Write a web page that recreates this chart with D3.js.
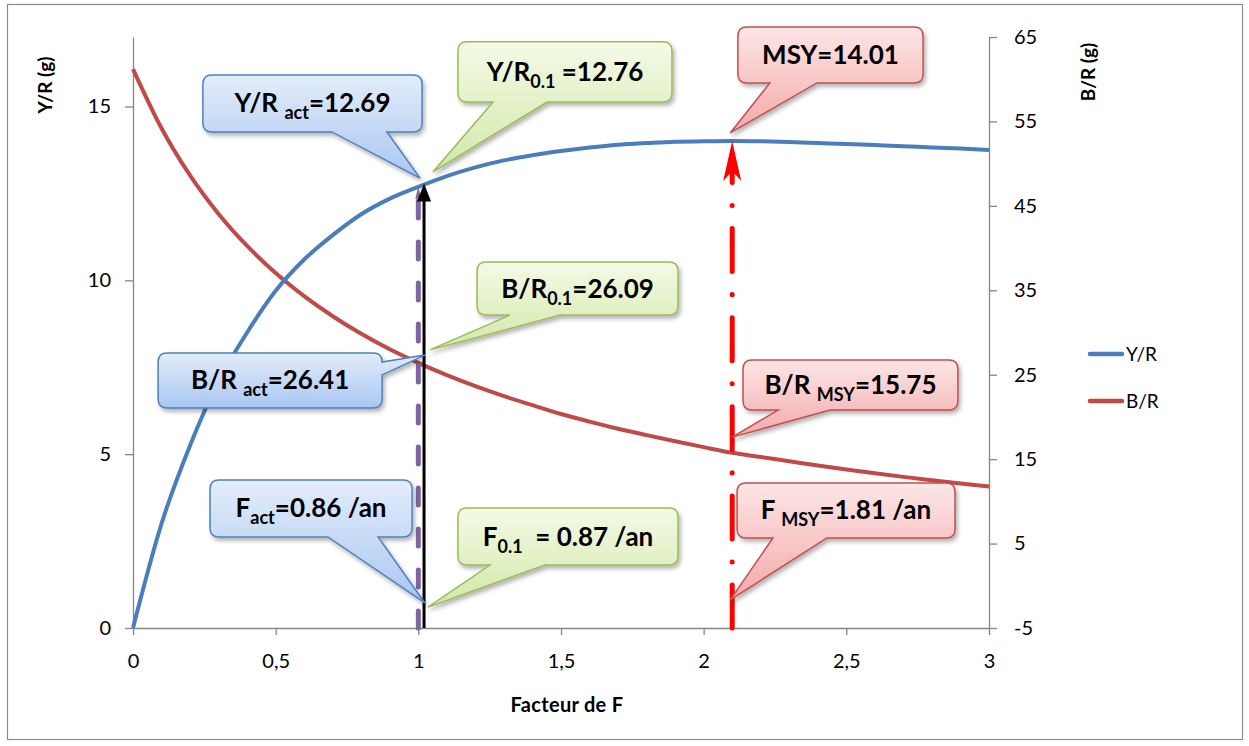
<!DOCTYPE html>
<html><head><meta charset="utf-8">
<script src="https://cdn.jsdelivr.net/npm/d3@7"></script>
<style>
html,body{margin:0;padding:0;background:#fff;}
svg{display:block;font-family:Lato,"Open Sans",sans-serif;}
</style></head>
<body>
<svg id="chart" width="1249" height="746"></svg>
<script>
// ---------- data ----------
const factorF = [0,0.1,0.2,0.3,0.4,0.5,0.6,0.7,0.8,0.9,1.0,1.1,1.2,1.3,1.4,1.5,1.6,1.7,1.8,1.9,2.0,2.1,2.2,2.3,2.4,2.5,2.6,2.7,2.8,2.9,3.0];
const yieldPerRecruit = [0,3.0,5.25,7.1,8.5,9.7,10.6,11.3,11.9,12.35,12.69,13.0,13.25,13.45,13.6,13.72,13.82,13.9,13.95,13.99,14.0,14.01,14.0,13.98,13.95,13.92,13.89,13.86,13.82,13.79,13.75];
const biomassPerRecruit = [61.2,54.19,48.6,44.04,40.25,37.04,34.3,31.93,29.85,28.02,26.41,24.95,23.64,22.46,21.39,20.35,19.45,18.6,17.85,17.12,16.42,15.75,15.25,14.75,14.25,13.78,13.33,12.9,12.5,12.12,11.75];
const seriesNames = ["Y/R","B/R"];
const xTickValues = [0,0.5,1,1.5,2,2.5,3];
const xTickLabels = ["0","0,5","1","1,5","2","2,5","3"];
const leftTickValues = [0,5,10,15];
const rightTickValues = [-5,5,15,25,35,45,55,65];
// reference points (factor of F, Y/R)
const refNames = ["act","0.1","MSY"];
const refFactor = [1.0,1.02,2.1];
const refYield = [12.69,12.76,14.01];

// ---------- scales ----------
const svg = d3.select("#chart");
const x = d3.scaleLinear().domain([0,3]).range([133,989]);
const yL = d3.scaleLinear().domain([0,17]).range([628,37]);
const yR = d3.scaleLinear().domain([-5,65]).range([628,37]);

const defs = svg.append("defs");
const sh = defs.append("filter").attr("id","shadow").attr("x","-20%").attr("y","-20%").attr("width","150%").attr("height","160%");
sh.append("feDropShadow").attr("dx",2).attr("dy",3).attr("stdDeviation",2).attr("flood-color","#000").attr("flood-opacity",0.3);

const themes = {
  blue:{stroke:"#4f81bd", top:"#e3edfb", bottom:"#a9c6f1"},
  green:{stroke:"#9bbb59", top:"#f4fae6", bottom:"#d2e8a8"},
  red:{stroke:"#c0504d", top:"#fde6e6", bottom:"#f3a9a9"}
};
Object.entries(themes).forEach(([k,t])=>{
  const g = defs.append("linearGradient").attr("id","grad-"+k).attr("x1",0).attr("y1",0).attr("x2",0).attr("y2",1);
  g.append("stop").attr("offset","0%").attr("stop-color",t.top);
  g.append("stop").attr("offset","100%").attr("stop-color",t.bottom);
});

// outer border
svg.append("rect").attr("x",7.5).attr("y",4.5).attr("width",1235).attr("height",735)
  .attr("fill","none").attr("stroke","#8c8c8c").attr("stroke-width",1.2);

// ---------- axes ----------
const axisColor = "#868686";
function styleAxis(g){
  g.selectAll("path,line").attr("stroke",axisColor).attr("stroke-width",1.3);
  g.selectAll("text").attr("fill","#000").style("font-size","20px").attr("font-family","Lato,sans-serif");
}
const intFmt = d => String(d);
svg.append("g").attr("transform","translate(133,0)")
  .call(d3.axisLeft(yL).tickValues(leftTickValues).tickSize(8).tickSizeOuter(0).tickPadding(14).tickFormat(intFmt))
  .call(styleAxis);
svg.append("g").attr("transform","translate(989,0)")
  .call(d3.axisRight(yR).tickValues(rightTickValues).tickSize(8).tickSizeOuter(0).tickPadding(17).tickFormat(intFmt))
  .call(styleAxis);
svg.append("g").attr("transform","translate(0,628)")
  .call(d3.axisBottom(x).tickValues(xTickValues).tickSize(7).tickSizeOuter(0).tickPadding(19).tickFormat((d,i)=>xTickLabels[i]))
  .call(styleAxis);

// axis titles
svg.append("text").attr("transform","translate(52,85) rotate(-90)").attr("text-anchor","middle")
  .attr("font-weight","bold").style("font-size","19px").text("Y/R (g)");
svg.append("text").attr("transform","translate(1095,72) rotate(-90)").attr("text-anchor","middle")
  .attr("font-weight","bold").style("font-size","19px").text("B/R (g)");
svg.append("text").attr("x",567).attr("y",712).attr("text-anchor","middle")
  .attr("font-weight","bold").style("font-size","20px").style("letter-spacing","0.3px").text("Facteur de F");

// ---------- series ----------
const colors = ["#4a7ebb","#be4b48"];
const lineL = d3.line().x((d,i)=>x(factorF[i])).y(d=>yL(d)).curve(d3.curveMonotoneX);
const lineR = d3.line().x((d,i)=>x(factorF[i])).y(d=>yR(d)).curve(d3.curveMonotoneX);
svg.append("path").attr("d",lineR(biomassPerRecruit)).attr("fill","none").attr("stroke",colors[1]).attr("stroke-width",4);
svg.append("path").attr("d",lineL(yieldPerRecruit)).attr("fill","none").attr("stroke",colors[0]).attr("stroke-width",4);

// ---------- reference lines ----------
// purple dashed (act)
svg.append("line").attr("x1",x(refFactor[0])).attr("x2",x(refFactor[0])).attr("y1",yL(0)).attr("y2",yL(refYield[0])+8)
  .attr("stroke","#8064a2").attr("stroke-width",5).attr("stroke-dasharray","17,24").attr("stroke-linecap","round");
svg.append("path").attr("d",`M${x(refFactor[0])},${yL(refYield[0])} l-3,12 l6,0 z`).attr("fill","#8064a2");
// black solid (F0.1)
svg.append("line").attr("x1",x(refFactor[1])).attr("x2",x(refFactor[1])).attr("y1",yL(0)).attr("y2",yL(refYield[1])+10)
  .attr("stroke","#000").attr("stroke-width",3);
svg.append("path").attr("d",`M${x(refFactor[1])},${yL(refYield[1])-1} l-7,18 l14,0 z`).attr("fill","#000");
// red dash-dot (MSY)
svg.append("line").attr("x1",x(refFactor[2])).attr("x2",x(refFactor[2])).attr("y1",yL(0)).attr("y2",yL(refYield[2])+30)
  .attr("stroke","#ff0000").attr("stroke-width",5).attr("stroke-dasharray","43,23,0.1,23").attr("stroke-linecap","round");
svg.append("path").attr("d",`M${x(refFactor[2])},${yL(refYield[2])} l-9,40 l9,-10 l9,10 z`).attr("fill","#ff0000");

// ---------- callouts (positions in data units: factor of F / left Y/R axis) ----------
const callouts = [
  {theme:"blue", box:[0.245,1.013,15.91,14.27], side:"bottom", base:[0.697,0.890], tip:[1.006,12.94],
   parts:[["Y/R ",0],["act",1],["=12.69",0]]},
  {theme:"green", box:[1.139,1.889,16.86,15.13], side:"bottom", base:[1.262,1.451], tip:[1.051,13.12],
   parts:[["Y/R",0],["0.1",1],[" =12.76",0]]},
  {theme:"red", box:[2.120,2.769,17.29,15.68], side:"bottom", base:[2.232,2.397], tip:[2.093,14.24],
   parts:[["MSY=14.01",0]]},
  {theme:"blue", box:[0.088,0.873,7.91,6.33], side:"right", base:[7.65,7.28], tip:[1.023,7.85],
   parts:[["B/R ",0],["act",1],["=26.41",0]]},
  {theme:"green", box:[1.206,1.910,10.53,9.00], side:"bottom", base:[1.321,1.497], tip:[1.041,8.00],
   parts:[["B/R",0],["0.1",1],["=26.09",0]]},
  {theme:"red", box:[2.138,2.891,7.71,6.27], side:"bottom", base:[2.261,2.443], tip:[2.100,5.49],
   parts:[["B/R ",0],["MSY",1],["=15.75",0]]},
  {theme:"blue", box:[0.270,0.978,4.26,2.62], side:"bottom", base:[0.683,0.859], tip:[1.023,0.72],
   parts:[["F",0],["act",1],["=0.86 /an",0]]},
  {theme:"green", box:[1.139,1.910,3.45,1.81], side:"bottom", base:[1.251,1.444], tip:[1.034,0.60],
   parts:[["F",0],["0.1",1],["  = 0.87 /an",0]]},
  {theme:"red", box:[2.117,2.881,4.17,2.59], side:"bottom", base:[2.243,2.432], tip:[2.093,0.81],
   parts:[["F ",0],["MSY",1],["=1.81 /an",0]]}
];

function calloutPath(c){
  const x0=x(c.box[0]), x1=x(c.box[1]), y0=yL(c.box[2]), y1=yL(c.box[3]);
  const tx=x(c.tip[0]), ty=yL(c.tip[1]); const r=9;
  let p = `M${x0+r},${y0} L${x1-r},${y0} Q${x1},${y0} ${x1},${y0+r} `;
  if(c.side==="right"){
    const b1=yL(c.base[0]), b2=yL(c.base[1]);
    p += `L${x1},${b1} L${tx},${ty} L${x1},${b2} `;
  }
  p += `L${x1},${y1-r} Q${x1},${y1} ${x1-r},${y1} `;
  if(c.side==="bottom"){
    const b1=x(c.base[0]), b2=x(c.base[1]);
    p += `L${b2},${y1} L${tx},${ty} L${b1},${y1} `;
  }
  p += `L${x0+r},${y1} Q${x0},${y1} ${x0},${y1-r} L${x0},${y0+r} Q${x0},${y0} ${x0+r},${y0} Z`;
  return p;
}

const cg = svg.append("g");
callouts.forEach(c=>{
  const t = themes[c.theme];
  cg.append("path").attr("d",calloutPath(c)).attr("fill",`url(#grad-${c.theme})`)
    .attr("stroke",t.stroke).attr("stroke-width",1.5).attr("filter","url(#shadow)");
  const cx=(x(c.box[0])+x(c.box[1]))/2, cy=(yL(c.box[2])+yL(c.box[3]))/2;
  const txt = cg.append("text").attr("x",cx).attr("y",cy+9).attr("text-anchor","middle")
    .attr("font-weight","bold").attr("font-size",26).attr("fill","#000").style("white-space","pre");
  let sub=false;
  c.parts.forEach(([s,isSub])=>{
    const ts = txt.append("tspan").text(s);
    if(isSub && !sub){ ts.attr("dy",7).attr("font-size",18); sub=true; }
    else if(!isSub && sub){ ts.attr("dy",-7); sub=false; }
  });
});

// ---------- legend ----------
const lg = svg.append("g");
seriesNames.forEach((n,i)=>{
  const yy = 354 + i*47;
  lg.append("line").attr("x1",1090).attr("x2",1122).attr("y1",yy).attr("y2",yy)
    .attr("stroke",colors[i]).attr("stroke-width",4.5).attr("stroke-linecap","round");
  lg.append("text").attr("x",1126).attr("y",yy+7).attr("font-size",19).attr("fill","#000").text(n);
});
</script>
</body></html>
